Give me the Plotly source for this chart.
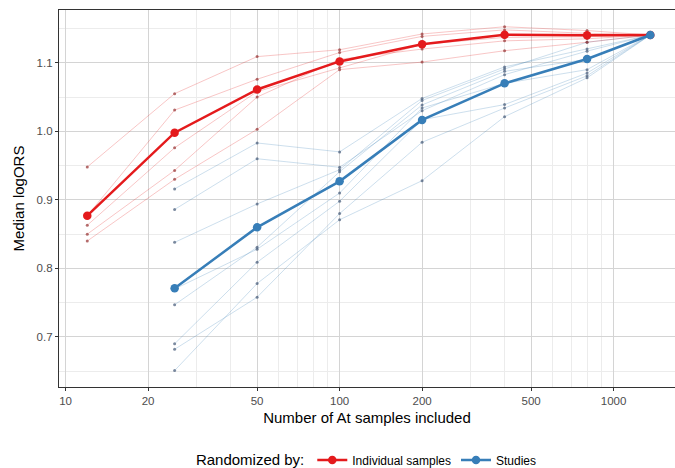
import plotly.graph_objects as go

# ---- data ----
n_individual = [12, 25, 50, 100, 200, 400, 800, 1361]
n_studies = [25, 50, 100, 200, 400, 800, 1361]

individual_median = [0.877, 0.998, 1.061, 1.102, 1.127, 1.141, 1.140, 1.1405]
studies_median = [0.771, 0.860, 0.927, 1.0166, 1.070, 1.1055, 1.1405]

individual_rep1 = [0.948, 1.055, 1.109, 1.119, 1.142, 1.1526, 1.147, 1.1405]
individual_rep2 = [0.877, 1.031, 1.076, 1.115, 1.1385, 1.148, 1.143, 1.1405]
individual_rep3 = [0.863, 0.976, 1.058, 1.093, 1.127, 1.137, 1.138, 1.1405]
individual_rep4 = [0.850, 0.943, 1.050, 1.105, 1.120, 1.132, 1.135, 1.1405]
individual_rep5 = [0.840, 0.930, 1.003, 1.090, 1.101, 1.1176, 1.130, 1.1405]

studies_rep1 = [0.916, 0.983, 0.970, 1.048, 1.094, 1.120, 1.1405]
studies_rep2 = [0.886, 0.960, 0.9475, 1.030, 1.0827, 1.117, 1.1405]
studies_rep3 = [0.838, 0.894, 0.944, 1.045, 1.091, 1.130, 1.1405]
studies_rep4 = [0.747, 0.831, 0.941, 1.0385, 1.0875, 1.105, 1.1405]
studies_rep5 = [0.770, 0.828, 0.910, 1.034, 1.070, 1.090, 1.1405]
studies_rep6 = [0.690, 0.809, 0.898, 1.017, 1.039, 1.085, 1.1405]
studies_rep7 = [0.682, 0.758, 0.880, 0.984, 1.034, 1.081, 1.1405]
studies_rep8 = [0.651, 0.778, 0.871, 0.928, 1.0214, 1.078, 1.1405]

x_ticks = [10, 20, 50, 100, 200, 500, 1000]
x_minor = [30, 40, 60, 70, 80, 90, 300, 400, 600, 700, 800, 900]
y_ticks = [0.7, 0.8, 0.9, 1.0, 1.1]
y_tick_labels = ["0.7", "0.8", "0.9", "1.0", "1.1"]
y_minor = [0.65, 0.75, 0.85, 0.95, 1.05, 1.15]

RED = "#E41A1C"
BLUE = "#377EB8"

individual_reps = [individual_rep1, individual_rep2, individual_rep3,
                   individual_rep4, individual_rep5]
studies_reps = [studies_rep1, studies_rep2, studies_rep3, studies_rep4,
                studies_rep5, studies_rep6, studies_rep7, studies_rep8]

fig = go.Figure()

for rep in studies_reps:
    fig.add_trace(go.Scatter(
        x=n_studies, y=rep, mode="lines+markers", showlegend=False,
        line=dict(color="rgba(55,126,184,0.25)", width=1),
        marker=dict(size=3, color="rgba(70,90,120,0.7)"),
        hoverinfo="skip"))
for rep in individual_reps:
    fig.add_trace(go.Scatter(
        x=n_individual, y=rep, mode="lines+markers", showlegend=False,
        line=dict(color="rgba(228,26,28,0.25)", width=1),
        marker=dict(size=3, color="rgba(150,50,50,0.7)"),
        hoverinfo="skip"))

fig.add_trace(go.Scatter(
    x=n_individual, y=individual_median, mode="lines+markers",
    name="Individual samples",
    line=dict(color=RED, width=2.5),
    marker=dict(size=8.5, color=RED)))
fig.add_trace(go.Scatter(
    x=n_studies, y=studies_median, mode="lines+markers",
    name="Studies",
    line=dict(color=BLUE, width=2.5),
    marker=dict(size=8.5, color=BLUE)))

FONT = "Liberation Sans, Arial, sans-serif"

fig.update_layout(
    width=675, height=468,
    margin=dict(l=58.5, r=0, t=9.5, b=81),
    paper_bgcolor="white", plot_bgcolor="white",
    font=dict(family=FONT, color="black"),
    legend=dict(
        orientation="h", xref="container", x=0.545, xanchor="center",
        yref="container", y=0.016, yanchor="middle",
        title=dict(text="Randomized by:", font=dict(size=15, family=FONT), side="left"),
        font=dict(size=12, family=FONT),
        itemwidth=30, bgcolor="rgba(0,0,0,0)"),
)

fig.update_xaxes(
    type="log", range=[0.976, 3.224],
    tickmode="array", tickvals=x_ticks, ticktext=[str(v) for v in x_ticks],
    tickfont=dict(size=11.5, color="#4d4d4d"),
    ticks="outside", ticklen=3, tickcolor="#333333",
    showgrid=True, gridcolor="#d4d4d4", gridwidth=1,
    minor=dict(tickmode="array", tickvals=x_minor, showgrid=True,
               gridcolor="#ececec", gridwidth=1, ticks=""),
    showline=True, linecolor="#333333", linewidth=1.2, mirror=True,
    zeroline=False,
    title=dict(text="Number of At samples included", font=dict(size=15), standoff=6),
    automargin=False,
)
fig.update_yaxes(
    range=[0.627, 1.177],
    tickmode="array", tickvals=y_ticks, ticktext=y_tick_labels,
    tickfont=dict(size=11.5, color="#4d4d4d"),
    ticks="outside", ticklen=3, tickcolor="#333333",
    showgrid=True, gridcolor="#d4d4d4", gridwidth=1,
    minor=dict(tickmode="array", tickvals=y_minor, showgrid=True,
               gridcolor="#ececec", gridwidth=1, ticks=""),
    showline=True, linecolor="#333333", linewidth=1.2, mirror=False,
    zeroline=False,
    title=dict(text="Median logORS", font=dict(size=15), standoff=8),
    automargin=False,
)

fig.write_html("out.html")
